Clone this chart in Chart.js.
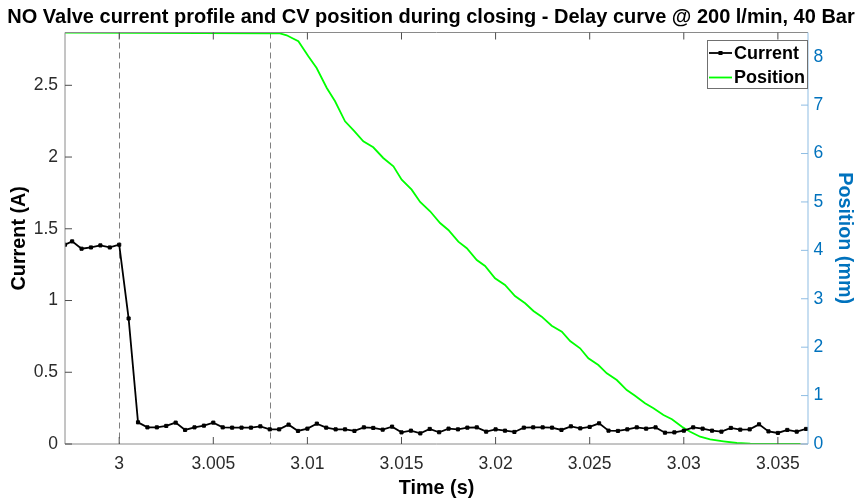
<!DOCTYPE html>
<html>
<head>
<meta charset="utf-8">
<title>NO Valve closing profile</title>
<script src="https://cdn.jsdelivr.net/npm/chart.js@4/dist/chart.umd.min.js"></script>
<style>
  html, body { margin: 0; padding: 0; background: #fff; }
  #wrap { width: 862px; height: 502px; }
</style>
</head>
<body>
<div id="wrap"><canvas id="chart-1" width="862" height="502"></canvas></div>
<script>
const FONT = '"Liberation Sans", Arial, Helvetica, sans-serif';
const BLUE = "#0072bd";

// coil current, sampled every 0.5 ms
const currentTime = [
  2.99712, 2.9975, 2.998, 2.9985, 2.999, 2.9995, 3.0, 3.0005, 3.001, 3.0015,
  3.002, 3.0025, 3.003, 3.0035, 3.004, 3.0045, 3.005, 3.0055, 3.006, 3.0065,
  3.007, 3.0075, 3.008, 3.0085, 3.009, 3.0095, 3.01, 3.0105, 3.011, 3.0115,
  3.012, 3.0125, 3.013, 3.0135, 3.014, 3.0145, 3.015, 3.0155, 3.016, 3.0165,
  3.017, 3.0175, 3.018, 3.0185, 3.019, 3.0195, 3.02, 3.0205, 3.021, 3.0215,
  3.022, 3.0225, 3.023, 3.0235, 3.024, 3.0245, 3.025, 3.0255, 3.026, 3.0265,
  3.027, 3.0275, 3.028, 3.0285, 3.029, 3.0295, 3.03, 3.0305, 3.031, 3.0315,
  3.032, 3.0325, 3.033, 3.0335, 3.034, 3.0345, 3.035, 3.0355, 3.036, 3.0365
];
const currentAmps = [
  1.389, 1.412, 1.361, 1.370, 1.384, 1.370, 1.389, 0.875, 0.151, 0.116,
  0.116, 0.126, 0.149, 0.098, 0.116, 0.128, 0.149, 0.116, 0.114, 0.114,
  0.114, 0.123, 0.102, 0.102, 0.135, 0.091, 0.107, 0.142, 0.114, 0.102,
  0.102, 0.091, 0.116, 0.112, 0.100, 0.121, 0.081, 0.093, 0.074, 0.105,
  0.082, 0.107, 0.102, 0.114, 0.116, 0.086, 0.102, 0.093, 0.084, 0.114,
  0.116, 0.116, 0.114, 0.098, 0.123, 0.109, 0.119, 0.144, 0.093, 0.091,
  0.102, 0.116, 0.107, 0.116, 0.079, 0.081, 0.093, 0.116, 0.107, 0.093,
  0.086, 0.112, 0.100, 0.102, 0.137, 0.088, 0.077, 0.098, 0.086, 0.105
];

// control valve stroke (mm)
const positionTime = [
  2.99712, 3.0043, 3.008, 3.00854, 3.0089, 3.00918, 3.00952, 3.01005, 3.01049, 3.01103,
  3.01147, 3.012, 3.01248, 3.01297, 3.0135, 3.01403, 3.01457, 3.01501, 3.01554, 3.01599,
  3.01652, 3.01705, 3.01749, 3.01802, 3.01847, 3.019, 3.01944, 3.01997, 3.0205, 3.02103,
  3.02157, 3.02201, 3.02245, 3.02298, 3.02352, 3.02396, 3.02449, 3.02493, 3.02546, 3.02591,
  3.02644, 3.02697, 3.02741, 3.02794, 3.02839, 3.02892, 3.02937, 3.0299, 3.03034, 3.03087,
  3.0314, 3.03211, 3.03282, 3.03353, 3.03495, 3.0362
];
const positionMm = [
  8.496, 8.49, 8.484, 8.48, 8.442, 8.387, 8.318, 8.009, 7.767, 7.354,
  7.079, 6.666, 6.466, 6.253, 6.129, 5.908, 5.736, 5.46, 5.253, 4.999,
  4.807, 4.565, 4.421, 4.179, 4.043, 3.801, 3.677, 3.423, 3.284, 3.057,
  2.906, 2.747, 2.63, 2.444, 2.32, 2.128, 1.977, 1.77, 1.632, 1.461,
  1.322, 1.115, 0.998, 0.841, 0.738, 0.599, 0.51, 0.357, 0.254, 0.151,
  0.097, 0.056, 0.021, 0.005, 0, 0
];

const timeTicks = [3, 3.005, 3.01, 3.015, 3.02, 3.025, 3.03, 3.035];
const currentTicks = [0, 0.5, 1, 1.5, 2, 2.5];
const positionTicks = [0, 1, 2, 3, 4, 5, 6, 7, 8];
// de-energise and start-of-motion instants
const eventTimes = [3, 3.008];

const tickFont = { family: FONT, size: 17.5 };
const labelFont = { family: FONT, size: 19.8, weight: "bold" };
const noGrid = { display: false, drawTicks: false };

const setTicks = (values) => (scale) => {
  scale.ticks = values.map((v) => ({ value: v }));
};
const plainNumber = (v) => String(+Number(v).toFixed(3));

// box, inward tick marks, dashed markers and the legend
const axesFrame = {
  id: "axesFrame",
  beforeDatasetsDraw(chart) {
    const { ctx, chartArea: a, scales } = chart;
    ctx.save();
    ctx.strokeStyle = "#7f7f7f";
    ctx.lineWidth = 1;
    ctx.setLineDash([6, 4]);
    eventTimes.forEach((t) => {
      const px = Math.round(scales.x.getPixelForValue(t)) + 0.5;
      ctx.beginPath();
      ctx.moveTo(px, a.top);
      ctx.lineTo(px, a.bottom);
      ctx.stroke();
    });
    ctx.restore();
  },
  afterDatasetsDraw(chart) {
    const { ctx, chartArea: a, scales } = chart;
    const tl = 7;
    ctx.save();
    ctx.lineWidth = 1;

    // left, bottom and top edges
    ctx.strokeStyle = "#8a8a8a";
    ctx.beginPath();
    ctx.moveTo(a.left, a.top);
    ctx.lineTo(a.left, a.bottom);
    ctx.lineTo(a.right, a.bottom);
    ctx.moveTo(a.left, a.top);
    ctx.lineTo(a.right, a.top);
    ctx.stroke();

    ctx.strokeStyle = "#4d4d4d";
    ctx.beginPath();
    timeTicks.forEach((t) => {
      const px = scales.x.getPixelForValue(t);
      ctx.moveTo(px, a.bottom);
      ctx.lineTo(px, a.bottom - tl);
      ctx.moveTo(px, a.top);
      ctx.lineTo(px, a.top + tl);
    });
    currentTicks.forEach((v) => {
      const py = scales.y.getPixelForValue(v);
      ctx.moveTo(a.left, py);
      ctx.lineTo(a.left + tl, py);
    });
    ctx.stroke();

    // right edge in the position colour
    ctx.strokeStyle = "#8fbde3";
    ctx.beginPath();
    ctx.moveTo(a.right, a.top);
    ctx.lineTo(a.right, a.bottom);
    positionTicks.forEach((v) => {
      const py = scales.y1.getPixelForValue(v);
      ctx.moveTo(a.right, py);
      ctx.lineTo(a.right - tl, py);
    });
    ctx.stroke();

    // legend box in the top right corner
    const bx = 707, by = 40, bw = a.right - bx, bh = 49;
    ctx.fillStyle = "#fff";
    ctx.fillRect(bx, by, bw, bh);
    ctx.strokeStyle = "#707070";
    ctx.strokeRect(bx + 0.5, by + 0.5, bw - 1, bh - 1);
    ctx.font = "bold 18px " + FONT;
    ctx.textBaseline = "middle";
    ctx.textAlign = "left";
    chart.data.datasets.forEach((ds, i) => {
      const cy = 54 + i * 24.5;
      ctx.strokeStyle = ds.borderColor;
      ctx.lineWidth = 1.8;
      ctx.beginPath();
      ctx.moveTo(709, cy - 1);
      ctx.lineTo(732, cy - 1);
      ctx.stroke();
      if (ds.pointRadius > 0) {
        ctx.fillStyle = ds.borderColor;
        ctx.fillRect(718.5, cy - 3, 4, 4);
      }
      ctx.fillStyle = "#000";
      ctx.fillText(ds.label, 734, cy);
    });
    ctx.restore();
  }
};

const chartArea = document.getElementById("chart-1");

const chart1 = new Chart(chartArea, {
  type: "line",
  data: {
    datasets: [
      {
        label: "Current",
        data: currentTime.map((t, i) => ({ x: t, y: currentAmps[i] })),
        yAxisID: "y",
        borderColor: "#000000",
        backgroundColor: "#000000",
        borderWidth: 1.8,
        pointStyle: "rect",
        pointRadius: 2.2,
        pointBorderWidth: 1,
        tension: 0
      },
      {
        label: "Position",
        data: positionTime.map((t, i) => ({ x: t, y: positionMm[i] })),
        yAxisID: "y1",
        borderColor: "#00ff00",
        backgroundColor: "#00ff00",
        borderWidth: 1.8,
        pointRadius: 0,
        tension: 0
      }
    ]
  },
  options: {
    responsive: false,
    animation: false,
    devicePixelRatio: 1,
    layout: { padding: 0 },
    plugins: {
      legend: { display: false },
      tooltip: { enabled: false },
      title: {
        display: true,
        text: "NO Valve current profile and CV position during closing - Delay curve @ 200 l/min, 40 Bar",
        color: "#000",
        font: { family: FONT, size: 20, weight: "bold" },
        padding: { top: 5.3, bottom: 3.2 }
      }
    },
    scales: {
      x: {
        type: "linear",
        min: 2.99712,
        max: 3.0366,
        afterBuildTicks: setTicks(timeTicks),
        afterFit: (s) => { s.height = 58; },
        grid: noGrid,
        border: { display: false },
        ticks: {
          color: "#2b2b2b",
          font: tickFont,
          padding: 9.3,
          maxRotation: 0,
          autoSkip: false,
          callback: plainNumber
        },
        title: {
          display: true,
          text: "Time (s)",
          color: "#000",
          font: labelFont,
          padding: { top: 0, bottom: 1.5 }
        }
      },
      y: {
        type: "linear",
        position: "left",
        min: 0,
        max: 2.868,
        afterBuildTicks: setTicks(currentTicks),
        afterFit: (s) => { s.width = 65; },
        grid: noGrid,
        border: { display: false },
        ticks: { color: "#2b2b2b", font: tickFont, padding: 7, autoSkip: false, callback: plainNumber },
        title: {
          display: true,
          text: "Current (A)",
          color: "#000",
          font: labelFont,
          padding: { top: 8, bottom: 0 }
        }
      },
      y1: {
        type: "linear",
        position: "right",
        min: 0,
        max: 8.5,
        afterBuildTicks: setTicks(positionTicks),
        afterFit: (s) => { s.width = 54; },
        grid: noGrid,
        border: { display: false },
        ticks: { color: BLUE, font: tickFont, padding: 5.5, autoSkip: false, callback: plainNumber },
        title: {
          display: true,
          text: "Position (mm)",
          color: BLUE,
          font: labelFont,
          padding: { top: 6.1, bottom: 0 }
        }
      }
    }
  },
  plugins: [axesFrame]
});
</script>
</body>
</html>
